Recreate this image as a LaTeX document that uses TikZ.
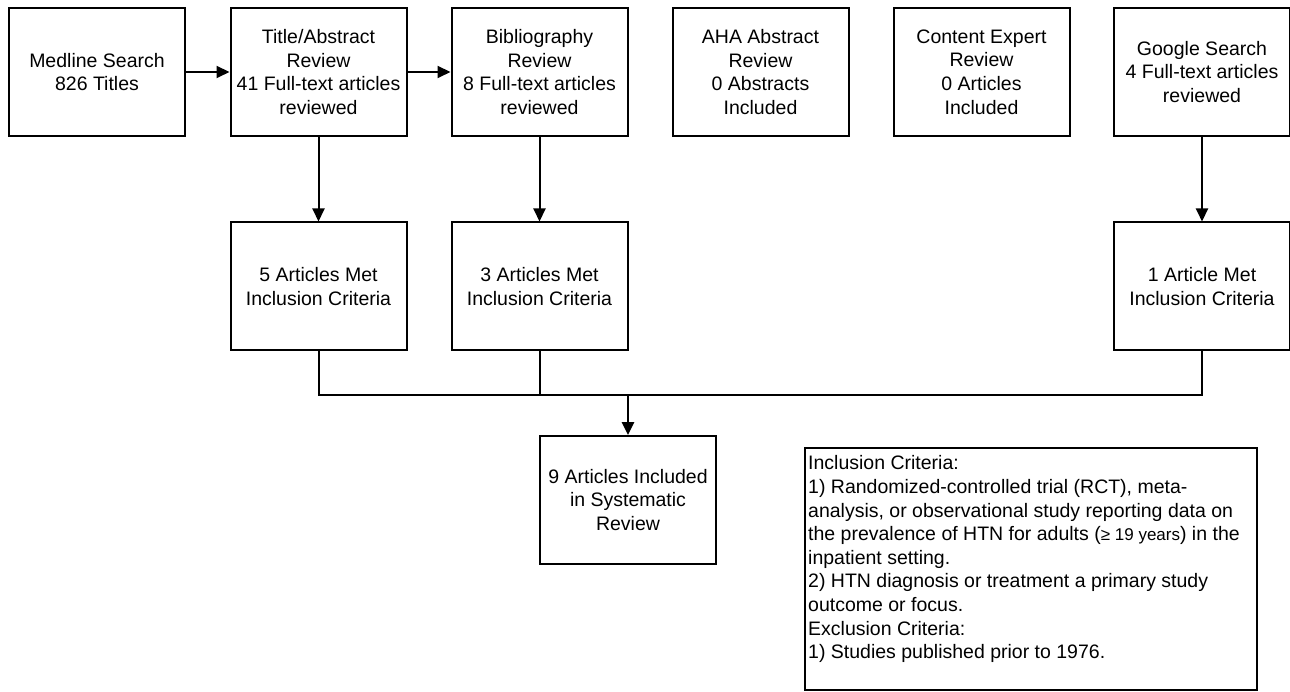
\documentclass[tikz,border=0pt]{standalone}
\usepackage{fontspec}
\setmainfont{Liberation Sans}
\usetikzlibrary{arrows.meta}
\begin{document}
\begin{tikzpicture}[x=1pt,y=-1pt,
    box/.style={draw, line width=2pt, minimum width=176pt, minimum height=128pt,
      align=center, inner sep=0pt, font=\fontsize{19.5}{23.6}\selectfont},
    arr/.style={line width=2pt, -{Triangle[width=12pt,length=13pt]}},
    link/.style={line width=2pt}]
    \useasboundingbox (0,0) rectangle (1290,692);
    % top row
    \node[box] (medline) at (97,72) {Medline Search\\826 Titles};
    \node[box] (title) at (318.5,72) {Title/Abstract\\Review\\41 Full-text articles\\reviewed};
    \node[box] (biblio) at (539.5,72) {Bibliography\\Review\\8 Full-text articles\\reviewed};
    \node[box] (aha) at (760.5,72) {AHA Abstract\\Review\\0 Abstracts\\Included};
    \node[box] (expert) at (981.5,72) {Content Expert\\Review\\0 Articles\\Included};
    \node[box] (google) at (1202,72) {Google Search\\4 Full-text articles\\reviewed};
    % second row
    \node[box] (five) at (318.5,286.5) {5 Articles Met\\Inclusion Criteria};
    \node[box] (three) at (539.5,286.5) {3 Articles Met\\Inclusion Criteria};
    \node[box] (one) at (1202,286.5) {1 Article Met\\Inclusion Criteria};
    % result
    \node[box] (nine) at (628,500) {9 Articles Included\\in Systematic\\Review};
    \coordinate (join) at (628,395);
    % criteria
    \node[draw, line width=2pt, minimum width=452pt, minimum height=242pt, inner sep=0pt] (crit) at (1031,568.5) {};
    \node[anchor=north west, align=left, inner xsep=4pt, inner ysep=9pt,
      font=\fontsize{19.5}{23.6}\selectfont] (crittext) at (crit.north west)
      {Inclusion Criteria:\\
       1) Randomized-controlled trial (RCT), meta-\\
       analysis, or observational study reporting data on\\
       the prevalence of HTN for adults ({\fontsize{17}{23.6}\selectfont ≥ 19 years}) in the\\
       inpatient setting.\\
       2) HTN diagnosis or treatment a primary study\\
       outcome or focus.\\
       Exclusion Criteria:\\
       1) Studies published prior to 1976.};
    % connectors
    \draw[arr] (medline) -- (title);
    \draw[arr] (title) -- (biblio);
    \draw[arr] (title) -- (five);
    \draw[arr] (biblio) -- (three);
    \draw[arr] (google) -- (one);
    \draw[link] (five.south) |- (join);
    \draw[link] (three.south) |- (join);
    \draw[link] (one.south) |- (join);
    \draw[arr, line width=2.6pt] (join) -- (nine);
\end{tikzpicture}
\end{document}
